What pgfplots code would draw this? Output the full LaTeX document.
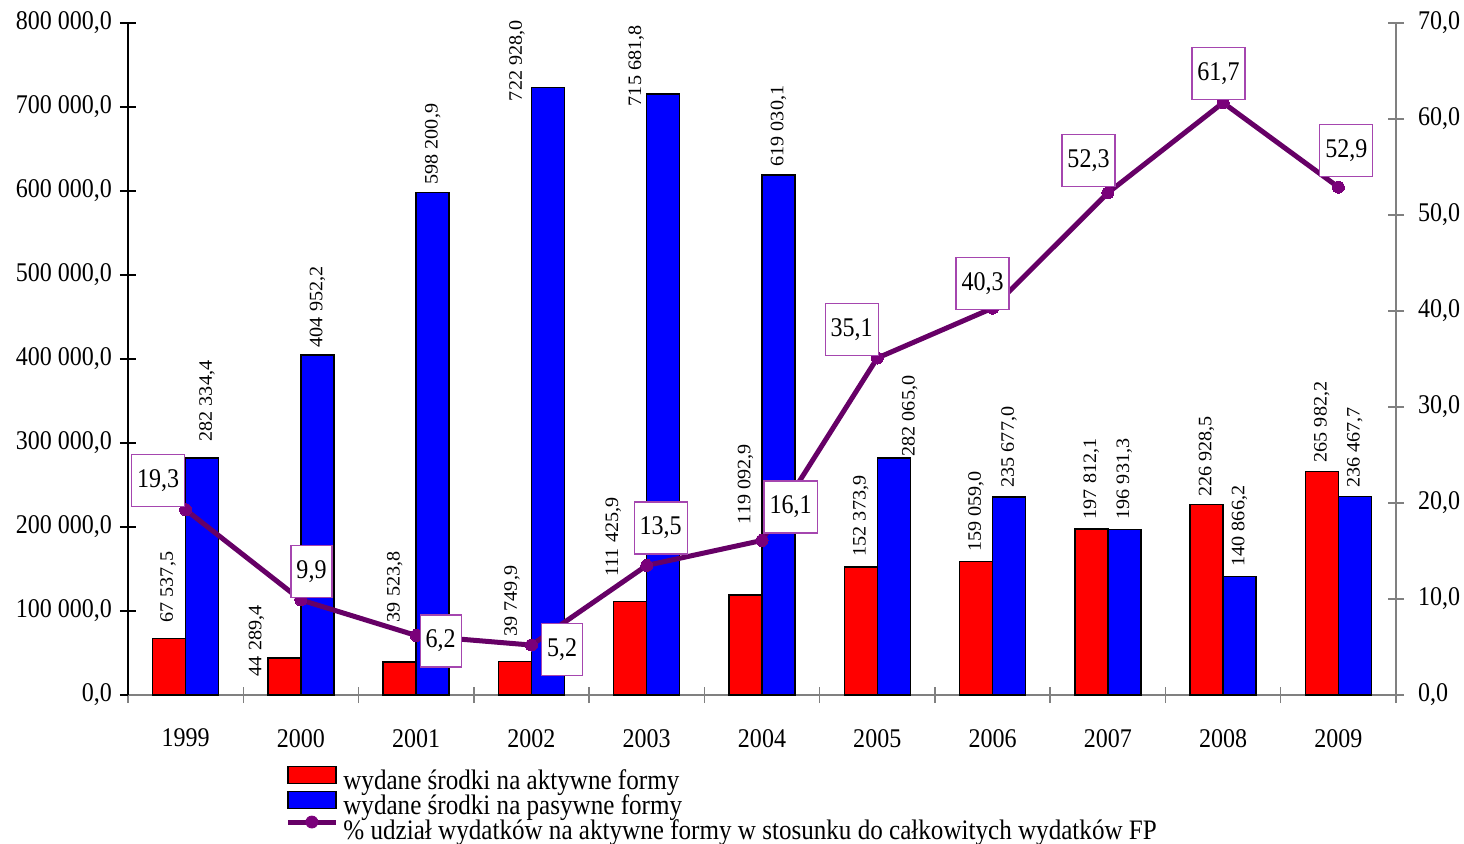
\documentclass[border=0pt]{standalone}
\usepackage{pgfplots}
\pgfplotsset{compat=1.18}
\usepackage{fontspec}
\setmainfont{Liberation Serif}[FakeStretch=0.89]
\newfontfamily\rotfont{Liberation Serif}[FakeStretch=1.06]
\definecolor{linecol}{RGB}{102,0,102}
\definecolor{markcol}{RGB}{122,0,122}
\definecolor{boxcol}{RGB}{165,70,175}
\definecolor{axgray}{RGB}{128,128,128}
\newcommand\lbl{\fontsize{13.5}{15}\selectfont}
\newcommand\leglbl{\fontsize{14.1}{12}\selectfont}
\newcommand\rlbl{\rotfont\fontsize{9.5}{10}\selectfont}

\pgfplotstableread{
x y lab dx dy
0 67537.5 67~537,5 -0.5 7.6
1 44289.4 44~289,4 -14 -9.5
2 39523.8 39~523,8 -2.5 19.5
3 39749.9 39~749,9 -1.5 12.3
4 111425.9 111~425,9 -8.5 12
5 119092.9 119~092,9 0 35
6 152373.9 152~373,9 0 5
7 159059.0 159~059,0 0 4.5
8 197812.1 197~812,1 0 4.5
9 226928.5 226~928,5 0 3.5
10 265982.2 265~982,2 0 4.3
}\aktywne

\pgfplotstableread{
x y lab dx dy
0 282334.4 282~334,4 2.5 7.9
1 404952.2 404~952,2 0 3.5
2 598200.9 598~200,9 0 3.7
3 722928.0 722~928,0 -15.5 -7
4 715681.8 715~681,8 -13.5 -6.5
5 619030.1 619~030,1 0 4
6 282065.0 282~065,0 8 0.5
7 235677.0 235~677,0 0 4.5
8 196931.3 196~931,3 0 4.8
9 140866.2 140~866,2 0 4.8
10 236467.7 236~467,7 0 4
}\pasywne

\pgfplotstableread{
x y lab dx dy
0 19.3 19,3 -13.75 14.5
1 9.9 9,9 5.3 14.3
2 6.2 6,2 12.25 -2.75
3 5.2 5,2 15.3 -2.3
4 13.5 13,5 7 18.7
5 16.1 16,1 14.3 16.7
6 35.1 35,1 -12.8 14.25
7 40.3 40,3 -5 12.5
8 52.3 52,3 -9.65 16.25
9 61.7 61,7 -2.3 14.6
10 52.9 52,9 4 18.5
}\udzial

\begin{document}
\begin{tikzpicture}
\useasboundingbox (0,0) rectangle (732pt,421.5pt);
\begin{axis}[
  at={(64pt,74pt)}, anchor=south west,
  scale only axis, width=634pt, height=336pt,
  xmin=-0.5, xmax=10.5, ymin=0, ymax=800000,
  ybar=0pt, bar width=16.5pt,
  axis x line*=bottom, axis y line*=left,
  x axis line style={axgray, line width=0.7pt, -},
  y axis line style={black, line width=0.7pt, -},
  xtick={-0.5,0.5,...,10.5},
  x tick label as interval,
  xticklabels={1999,2000,2001,2002,2003,2004,2005,2006,2007,2008,2009},
  ytick={0,100000,...,800000},
  yticklabels={{0,0},{100 000,0},{200 000,0},{300 000,0},{400 000,0},{500 000,0},{600 000,0},{700 000,0},{800 000,0}},
  scaled y ticks=false,
  tick align=center, major tick length=8pt,
  xtick style={axgray, line width=0.7pt},
  ytick style={black, line width=0.7pt},
  xticklabel style={font=\lbl, yshift=-9.5pt},
  yticklabel style={font=\lbl, xshift=-0.5pt},
  clip=false,
]
\addplot[fill=red, draw=black, line width=0.7pt,
  point meta=explicit symbolic, nodes near coords,
  visualization depends on={\thisrow{dx}\as\ldx},
  visualization depends on={\thisrow{dy}\as\ldy},
  nodes near coords style={font=\rlbl, text=black, xshift=\ldx pt, yshift=\ldy pt, rotate=90, anchor=west, inner sep=0pt}]
  table[x=x, y=y, meta=lab] {\aktywne};
\addplot[fill=blue, draw=black, line width=0.7pt,
  point meta=explicit symbolic, nodes near coords,
  visualization depends on={\thisrow{dx}\as\ldx},
  visualization depends on={\thisrow{dy}\as\ldy},
  nodes near coords style={font=\rlbl, text=black, xshift=\ldx pt, yshift=\ldy pt, rotate=90, anchor=west, inner sep=0pt}]
  table[x=x, y=y, meta=lab] {\pasywne};
\end{axis}
\begin{axis}[
  at={(64pt,74pt)}, anchor=south west,
  scale only axis, width=634pt, height=336pt,
  xmin=-0.5, xmax=10.5, ymin=0, ymax=70,
  axis x line=none, axis y line*=right,
  y axis line style={axgray, line width=0.7pt, -},
  ytick={0,10,...,70},
  yticklabels={{0,0},{10,0},{20,0},{30,0},{40,0},{50,0},{60,0},{70,0}},
  tick align=center, major tick length=8pt,
  ytick style={axgray, line width=0.7pt},
  yticklabel style={font=\lbl, xshift=3.5pt},
  clip=false,
  legend style={at={(0.1238,-0.1045)}, anchor=north west, draw=none, fill=none,
    inner sep=0pt, row sep=-2.6pt, column sep=2.5pt, font=\leglbl,
    nodes={inner sep=0pt, text height=9.5pt, text depth=3pt}},
  legend cell align=left,
]
\addlegendimage{legend image code/.code={\draw[fill=red, draw=black, line width=0.7pt] (0pt,0pt) rectangle (24pt,8.5pt);}}
\addlegendentry{wydane środki na aktywne formy}
\addlegendimage{legend image code/.code={\draw[fill=blue, draw=black, line width=0.7pt] (0pt,0pt) rectangle (24pt,8.5pt);}}
\addlegendentry{wydane środki na pasywne formy}
\addlegendimage{legend image code/.code={\draw[linecol, line width=2.5pt] (0pt,5.5pt) -- (24pt,5.5pt); \fill[markcol] (12pt,5.5pt) circle (3pt);}}
\addlegendentry{\% udział wydatków na aktywne formy w stosunku do całkowitych wydatków FP}
\addplot[forget plot, linecol, line width=2.5pt, mark=*, mark size=3pt,
  mark options={fill=markcol, draw=markcol, line width=0pt},
  point meta=explicit symbolic, nodes near coords,
  visualization depends on={\thisrow{dx}\as\ldx},
  visualization depends on={\thisrow{dy}\as\ldy},
  nodes near coords style={font=\lbl, text=black, draw=boxcol, fill=white, line width=0.6pt,
    xshift=\ldx pt, yshift=\ldy pt, anchor=center, inner xsep=2.75pt, inner ysep=0pt, minimum height=26pt}]
  table[x=x, y=y, meta=lab] {\udzial};
\end{axis}
\end{tikzpicture}
\end{document}
